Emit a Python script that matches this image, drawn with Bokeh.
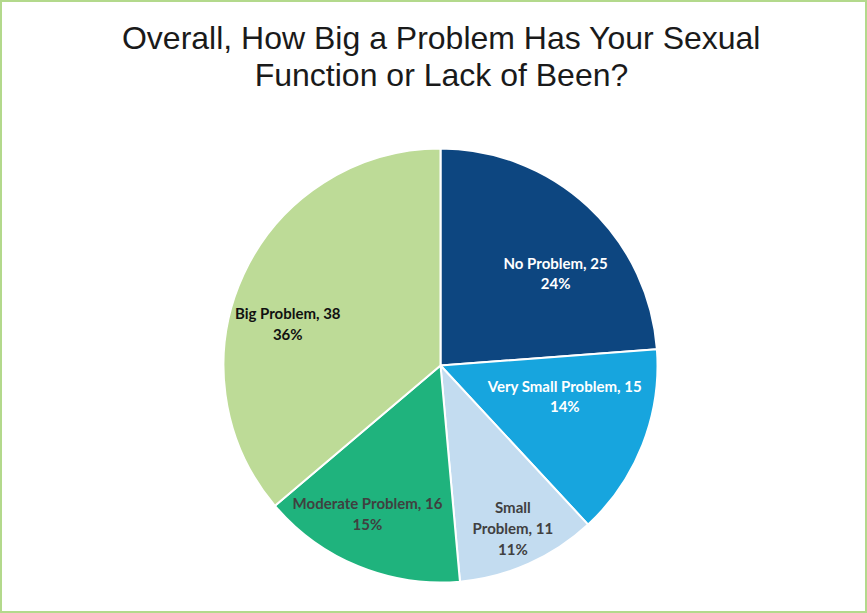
import math
from bokeh.plotting import figure
from bokeh.models import Range1d, Label, ColumnDataSource
from bokeh.core.properties import value
from bokeh.embed import file_html
from bokeh.resources import INLINE

# ---- data ----
categories = ["No Problem", "Very Small Problem", "Small Problem", "Moderate Problem", "Big Problem"]
counts = [25, 15, 11, 16, 38]
percent_labels = ["24%", "14%", "11%", "15%", "36%"]
title_lines = ["Overall, How Big a Problem Has Your Sexual", "Function or Lack of Been?"]

# ---- style ----
colors = ["#0d4680", "#17a5de", "#c3dcf0", "#1fb37d", "#bddb97"]
text_colors = ["#ffffff", "#ffffff", "#404040", "#404040", "#111111"]
label_radius_frac = [0.68, 0.59, 0.82, 0.76, 0.73]
label_angle_shift = [8.4, -7.6, 0.0, 4.0, -9.5]  # degrees, clockwise positive
wrap_small = {"Small Problem": "Small\nProblem"}

W, H = 867, 613
cx, cy, R = 440, H - 365, 217

total = sum(counts)
starts, ends, lx, ly, texts = [], [], [], [], []
cum = 0
for i, (cat, c) in enumerate(zip(categories, counts)):
    a0 = math.pi / 2 - 2 * math.pi * cum / total
    a1 = math.pi / 2 - 2 * math.pi * (cum + c) / total
    starts.append(a0)
    ends.append(a1)
    mid = (a0 + a1) / 2 - math.radians(label_angle_shift[i])
    r = R * label_radius_frac[i]
    lx.append(cx + r * math.cos(mid))
    ly.append(cy + r * math.sin(mid))
    name = wrap_small.get(cat, cat)
    texts.append(f"{name}, {c}\n{percent_labels[i]}")
    cum += c

src = ColumnDataSource(dict(start=starts, end=ends, color=colors,
                            x=lx, y=ly, text=texts, tcolor=text_colors))

p = figure(width=W, height=H, output_backend="svg", toolbar_location=None,
           x_range=Range1d(0, W), y_range=Range1d(0, H), min_border=0)
p.axis.visible = False
p.grid.visible = False
p.background_fill_color = "white"
p.border_fill_color = "white"
p.outline_line_color = "#b3d98c"
p.outline_line_width = 3

p.wedge(x=cx, y=cy, radius=R, start_angle="start", end_angle="end",
        direction="clock", fill_color="color", line_color="white",
        line_width=2, source=src)

p.text(x="x", y="y", text="text", text_color="tcolor", source=src,
       text_font=value("Lato"), text_font_style="bold", text_font_size="15px",
       text_align="center", text_baseline="middle", text_line_height=1.15)

for i, line in enumerate(title_lines):
    p.add_layout(Label(x=441, y=H - 37 - 37 * i, text=line, text_align="center",
                       text_baseline="middle", text_font="Liberation Sans",
                       text_font_size="32px", text_color="#1a1a1a"))

open("out.html", "w").write(file_html(p, INLINE))
